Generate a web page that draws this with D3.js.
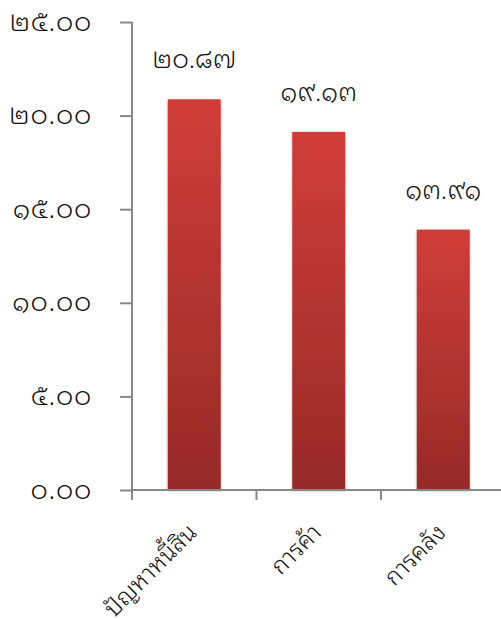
<!DOCTYPE html>
<html><head><meta charset="utf-8">
<script src="https://cdn.jsdelivr.net/npm/d3@7"></script>
<style>body{margin:0;background:#fff}svg{display:block}text{font-family:"Noto Sans Thai Looped","Noto Sans Thai",sans-serif;font-weight:300;fill:#111}</style>
</head><body><svg id="c" width="501" height="619"></svg>
<script>
const categories = ["ปัญหาหนี้สิน", "การค้า", "การคลัง"];
const values = [20.87, 19.13, 13.91];
const valueLabels = ["๒๐.๘๗", "๑๙.๑๓", "๑๓.๙๑"];
const tickValues = [0, 5, 10, 15, 20, 25];
const tickLabels = ["๐.๐๐", "๕.๐๐", "๑๐.๐๐", "๑๕.๐๐", "๒๐.๐๐", "๒๕.๐๐"];

const svg = d3.select("#c");
const x0 = 132, x1 = 505.5, y0 = 490, yTop = 22;
const x = d3.scaleBand().domain(categories).range([x0, x1]).paddingInner(0.574).paddingOuter(0.287);
const y = d3.scaleLinear().domain([0, 25]).range([y0, yTop]);

const defs = svg.append("defs");
const g = defs.append("linearGradient").attr("id","gr").attr("x1",0).attr("y1",0).attr("x2",0).attr("y2",1);
g.append("stop").attr("offset","0%").attr("stop-color","#d03d39");
g.append("stop").attr("offset","100%").attr("stop-color","#962a28");
const f = defs.append("filter").attr("id","sh").attr("x","-20%").attr("y","-5%").attr("width","140%").attr("height","110%");
f.append("feDropShadow").attr("dx",0).attr("dy",1).attr("stdDeviation",1.5).attr("flood-color","#000").attr("flood-opacity",0.25);

svg.selectAll("rect.bar").data(values).enter().append("rect").attr("class","bar")
  .attr("x",(d,i)=>x(categories[i])).attr("width",x.bandwidth())
  .attr("y",d=>y(d)).attr("height",d=>y0-y(d))
  .attr("fill","url(#gr)").attr("filter","url(#sh)");

// y axis
const yAxis = d3.axisLeft(y).tickValues(tickValues).tickFormat((d,i)=>tickLabels[i]).tickSize(12).tickPadding(28);
const ya = svg.append("g").attr("transform",`translate(${x0},0)`).call(yAxis);
ya.select(".domain").remove();
ya.selectAll(".tick line").attr("stroke","#888").attr("stroke-width",2);
ya.selectAll(".tick text").style("font-size","27px").style("letter-spacing","0.8px").attr("dy","0.3em").attr("fill","#111");
svg.append("line").attr("x1",x0).attr("x2",x0).attr("y1",yTop).attr("y2",y0+10).attr("stroke","#888").attr("stroke-width",2);

// x axis
svg.append("line").attr("x1",x0).attr("x2",501).attr("y1",y0).attr("y2",y0).attr("stroke","#888").attr("stroke-width",2);
const step = x.step();
[1,2].forEach(k=>{
  svg.append("line").attr("x1",x0+k*step).attr("x2",x0+k*step).attr("y1",y0).attr("y2",y0+10).attr("stroke","#888").attr("stroke-width",2);
});
categories.forEach((c,i)=>{
  const cx = x(c)+x.bandwidth()/2 + 4;
  svg.append("text").attr("transform",`translate(${cx},${y0+44}) rotate(-45)`)
    .attr("text-anchor","end").style("font-size","24px").text(c);
});

// value labels
values.forEach((v,i)=>{
  svg.append("text").attr("x",x(categories[i])+x.bandwidth()/2).attr("y",y(v)-31)
    .attr("text-anchor","middle").style("font-size","26px").text(valueLabels[i]);
});
</script></body></html>
